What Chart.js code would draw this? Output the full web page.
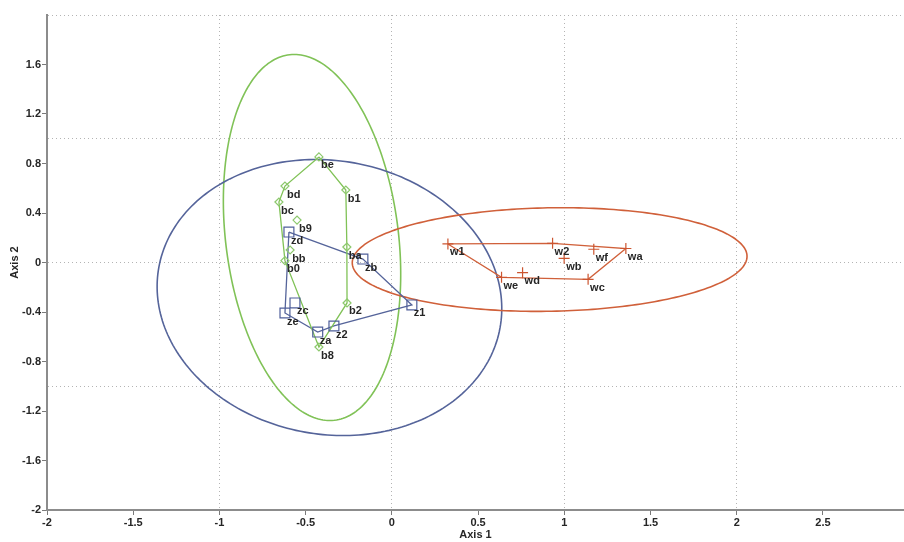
<!DOCTYPE html>
<html>
<head>
<meta charset="utf-8">
<title>Axis 1 / Axis 2</title>
<script src="https://cdn.jsdelivr.net/npm/chart.js@4/dist/chart.umd.min.js"></script>
<style>
  html, body { margin: 0; padding: 0; background: #ffffff; }
  #wrap { width: 904px; height: 542px; }
</style>
</head>
<body>
<div id="wrap"><canvas id="chart" width="904" height="542"></canvas></div>
<script>
(function() {

  // ***************************************************
  // Data
  // ***************************************************

  var bNames = ['be', 'bd', 'b1', 'bc', 'b9', 'ba', 'bb', 'b0', 'b2', 'b8'];
  var bX = [-0.423, -0.620, -0.267, -0.655, -0.550, -0.261, -0.590, -0.620, -0.260, -0.423];
  var bY = [0.853, 0.618, 0.586, 0.489, 0.343, 0.125, 0.101, 0.015, -0.327, -0.683];
  var bHull = ['be', 'b1', 'ba', 'b2', 'b8', 'b0', 'bc', 'bd', 'be'];

  var zNames = ['zd', 'zb', 'z1', 'zc', 'ze', 'z2', 'za'];
  var zX = [-0.597, -0.168, 0.116, -0.562, -0.620, -0.336, -0.430];
  var zY = [0.246, 0.028, -0.343, -0.327, -0.408, -0.513, -0.562];
  var zHull = ['zd', 'zb', 'z1', 'z2', 'za', 'ze', 'zd'];

  var wNames = ['w1', 'w2', 'wf', 'wa', 'wb', 'wd', 'we', 'wc'];
  var wX = [0.325, 0.932, 1.171, 1.357, 0.999, 0.758, 0.636, 1.138];
  var wY = [0.150, 0.155, 0.107, 0.113, 0.034, -0.082, -0.120, -0.136];
  var wHull = ['w1', 'w2', 'wa', 'wc', 'we', 'w1'];

  // ellipses: green (b), blue (z), red (w)
  var ellCenterX = [-0.463, -0.362, 0.915];
  var ellCenterY = [0.202, -0.283, 0.024];
  var ellRadiusA = [1.483, 0.985, 1.145];
  var ellRadiusB = [0.5025, 1.128, 0.418];
  var ellAngleDeg = [-85.5, 17.9, 1.5];

  var xTickValues = [-2, -1.5, -1, -0.5, 0, 0.5, 1, 1.5, 2, 2.5];
  var yTickValues = [-2, -1.6, -1.2, -0.8, -0.4, 0, 0.4, 0.8, 1.2, 1.6];
  var xGridValues = [-1, 0, 1, 2];
  var yGridValues = [-1, 0, 1, 2];

  var xMin = -2, xMax = 2.97, yMin = -2, yMax = 2;

  // ***************************************************
  // Styles
  // ***************************************************

  var GREEN = '#80c257', BLUE = '#55649a', RED = '#d0603a';
  var TEXT = '#262626';
  var FONT = "'Liberation Sans Narrow', 'Arial Narrow', 'Liberation Sans', sans-serif";
  var NONE = 'rgba(0,0,0,0)';

  // ***************************************************
  // Helpers
  // ***************************************************

  function has(list, v) {
    for (var i = 0; i < list.length; i++) {
      if (Math.abs(list[i] - v) < 1e-9) return true;
    }
    return false;
  }

  function points(xs, ys) {
    return xs.map(function(x, i) { return {x: x, y: ys[i]}; });
  }

  function hull(order, names, xs, ys) {
    return order.map(function(n) {
      var i = names.indexOf(n);
      return {x: xs[i], y: ys[i]};
    });
  }

  function mergeTicks(a, b) {
    var all = a.slice();
    b.forEach(function(v) { if (!has(all, v)) all.push(v); });
    all.sort(function(p, q) { return p - q; });
    return all.map(function(v) { return {value: v}; });
  }

  // ***************************************************
  // Plugins: ellipses behind, point names on top
  // ***************************************************

  var ellipsePlugin = {
    id: 'ellipses',
    beforeDatasetsDraw: function(chart) {
      var ctx = chart.ctx, xs = chart.scales.x, ys = chart.scales.y;
      var area = chart.chartArea;
      var colors = [GREEN, BLUE, RED];
      ctx.save();
      ctx.beginPath();
      ctx.rect(area.left, area.top, area.right - area.left, area.bottom - area.top);
      ctx.clip();
      for (var e = 0; e < ellCenterX.length; e++) {
        var rad = ellAngleDeg[e] * Math.PI / 180;
        var c = Math.cos(rad), s = Math.sin(rad);
        ctx.beginPath();
        for (var k = 0; k <= 240; k++) {
          var t = k / 240 * Math.PI * 2;
          var dx = ellRadiusA[e] * Math.cos(t), dy = ellRadiusB[e] * Math.sin(t);
          var px = xs.getPixelForValue(ellCenterX[e] + dx * c - dy * s);
          var py = ys.getPixelForValue(ellCenterY[e] + dx * s + dy * c);
          if (k === 0) ctx.moveTo(px, py); else ctx.lineTo(px, py);
        }
        ctx.closePath();
        ctx.lineWidth = 1.6;
        ctx.strokeStyle = colors[e];
        ctx.stroke();
      }
      ctx.restore();
    }
  };

  var namePlugin = {
    id: 'pointNames',
    afterDatasetsDraw: function(chart) {
      var ctx = chart.ctx;
      ctx.save();
      ctx.font = 'bold 11px ' + FONT;
      ctx.fillStyle = TEXT;
      ctx.textAlign = 'left';
      ctx.textBaseline = 'top';
      chart.data.datasets.forEach(function(ds, i) {
        if (!ds.pointNames) return;
        chart.getDatasetMeta(i).data.forEach(function(el, j) {
          ctx.fillText(ds.pointNames[j], el.x + 2, el.y + 3);
        });
      });
      ctx.restore();
    }
  };

  // ***************************************************
  // Datasets
  // ***************************************************

  function hullSet(data, color) {
    return {
      data: data, showLine: true, borderColor: color, borderWidth: 1.3,
      pointRadius: 0, pointHoverRadius: 0, fill: false, order: 2
    };
  }

  function pointSet(data, names, color, style, radius) {
    return {
      data: data, pointNames: names, showLine: false,
      pointStyle: style, pointRadius: radius, pointHoverRadius: radius,
      pointBorderColor: color, pointBackgroundColor: NONE,
      pointBorderWidth: 1.2, order: 1
    };
  }

  var datasets = [
    hullSet(hull(bHull, bNames, bX, bY), GREEN),
    hullSet(hull(zHull, zNames, zX, zY), BLUE),
    hullSet(hull(wHull, wNames, wX, wY), RED),
    pointSet(points(bX, bY), bNames, '#8cc86c', 'rectRot', 4),
    pointSet(points(zX, zY), zNames, '#4f5f9a', 'rect', 7),
    pointSet(points(wX, wY), wNames, '#cc5530', 'cross', 5.5)
  ];

  // ***************************************************
  // Axes
  // ***************************************************

  function axis(min, max, tickValues, gridValues, title, fitKey, fitSize, skipLabel) {
    return {
      type: 'linear', min: min, max: max,
      afterBuildTicks: function(scale) {
        scale.ticks = mergeTicks(tickValues, gridValues);
      },
      afterFit: function(scale) {
        scale[fitKey] = fitSize;
        // no extra room for the end labels, the plot runs to the edge
        scale.paddingLeft = 0;
        scale.paddingRight = 0;
        scale.paddingTop = 0;
        scale.paddingBottom = 0;
      },
      ticks: {
        autoSkip: false, maxRotation: 0, padding: 1, color: TEXT,
        font: {family: FONT, size: 11, weight: 'bold'},
        callback: function(v) {
          if (!has(tickValues, v) || v === skipLabel) return '';
          return String(Math.round(v * 10) / 10);
        }
      },
      grid: {
        drawTicks: true, tickLength: 5, lineWidth: 1, tickWidth: 1,
        tickBorderDash: [],
        color: function(c) {
          return c.tick && has(gridValues, c.tick.value) && c.tick.value !== min ? '#b4b4b4' : NONE;
        },
        tickColor: function(c) {
          return c.tick && has(tickValues, c.tick.value) ? '#7a7a7a' : NONE;
        }
      },
      border: {display: true, color: '#8c8c8c', width: 2, dash: [1, 3]},
      title: {
        display: true, text: title, color: TEXT,
        font: {family: FONT, size: 11, weight: 'bold'},
        padding: fitKey === 'width' ? {top: 8, bottom: 0} : {top: 0, bottom: 0}
      }
    };
  }

  new Chart(document.getElementById('chart'), {
    type: 'scatter',
    data: {datasets: datasets},
    options: {
      responsive: false,
      animation: false,
      events: [],
      layout: {autoPadding: false, padding: {top: 15, right: 0, bottom: 0, left: 0}},
      plugins: {legend: {display: false}, tooltip: {enabled: false}},
      scales: {
        x: axis(xMin, xMax, xTickValues, xGridValues, 'Axis 1', 'height', 32, null),
        y: axis(yMin, yMax, yTickValues, yGridValues, 'Axis 2', 'width', 47, 2)
      }
    },
    plugins: [ellipsePlugin, namePlugin]
  });

})();
</script>
</body>
</html>
